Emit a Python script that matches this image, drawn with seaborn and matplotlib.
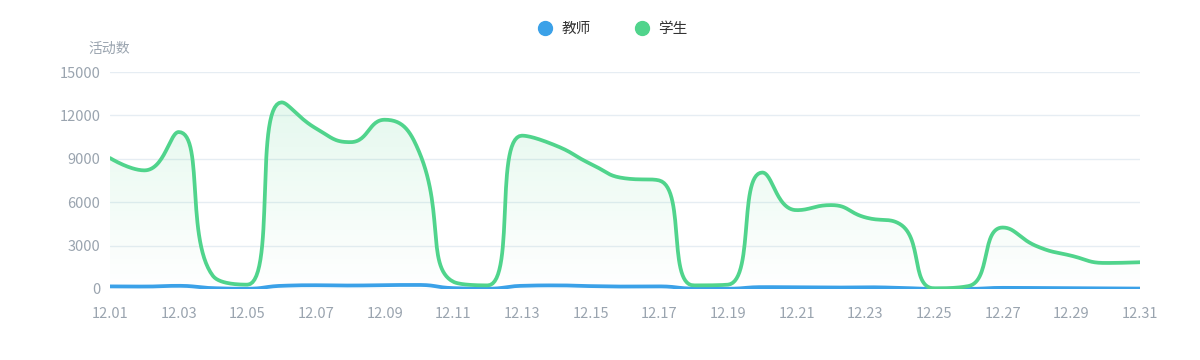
import numpy as np
import pandas as pd
import matplotlib
matplotlib.use("Agg")
import matplotlib.pyplot as plt
from matplotlib.lines import Line2D
from matplotlib.colors import LinearSegmentedColormap
import seaborn as sns

# daily activity counts, December
days = ["12.01", "12.02", "12.03", "12.04", "12.05", "12.06", "12.07", "12.08",
        "12.09", "12.10", "12.11", "12.12", "12.13", "12.14", "12.15", "12.16",
        "12.17", "12.18", "12.19", "12.20", "12.21", "12.22", "12.23", "12.24",
        "12.25", "12.26", "12.27", "12.28", "12.29", "12.30", "12.31"]
teacher = [180, 170, 220, 60, 20, 220, 260, 240, 270, 280, 60, 20, 220, 250, 200, 170,
           180, 30, 20, 130, 120, 100, 120, 80, 10, 10, 80, 70, 50, 40, 30]
student = [9050, 8200, 10850, 900, 300, 12900, 11100, 10150, 11700, 9500, 500, 250,
           10600, 9900, 8650, 7650, 7500, 250, 300, 8050, 5450, 5800, 4950, 4500,
           50, 200, 4250, 2950, 2300, 1800, 1850]
yticks = [0, 3000, 6000, 9000, 12000, 15000]

TEACHER_C = "#3ba1e8"
STUDENT_C = "#50d48c"
TICK_C = "#9aa4af"

# pixel size of one day / one count on the canvas, used by the smoothing
PX_X = 1030 / 30
PX_Y = 217 / 15000


def smooth_curve(vals, smooth=0.5, steps=30):
    """bezier smoothing of the daily points, done the way echarts does it
    (control points worked out in screen pixels, kept inside each segment)"""
    px = np.arange(len(vals)) * PX_X
    py = np.asarray(vals, float) * PX_Y
    n = len(px)
    cp0 = [None] * n   # outgoing control point of each point
    cp1 = [None] * n   # incoming control point of each point
    cp0[0] = (px[0], py[0])
    cp1[-1] = (px[-1], py[-1])
    for i in range(1, n - 1):
        x, y = px[i], py[i]
        xp, yp = px[i - 1], py[i - 1]
        xn, yn = px[i + 1], py[i + 1]
        vx, vy = xn - xp, yn - yp
        lp = np.hypot(x - xp, y - yp)
        ln = np.hypot(xn - x, yn - y)
        r = ln / (ln + lp)
        nx = x + vx * smooth * r
        ny = y + vy * smooth * r
        nx = max(min(nx, max(xn, x)), min(xn, x))
        ny = max(min(ny, max(yn, y)), min(yn, y))
        vx, vy = nx - x, ny - y
        cx = x - vx * lp / ln
        cy = y - vy * lp / ln
        cx = max(min(cx, max(xp, x)), min(xp, x))
        cy = max(min(cy, max(yp, y)), min(yp, y))
        vx, vy = x - cx, y - cy
        cp1[i] = (cx, cy)
        cp0[i] = (x + vx * ln / lp, y + vy * ln / lp)
    t = np.linspace(0, 1, steps, endpoint=False)[:, None]
    pts = []
    for i in range(n - 1):
        p0 = np.array([px[i], py[i]])
        p1 = np.array(cp0[i])
        p2 = np.array(cp1[i + 1])
        p3 = np.array([px[i + 1], py[i + 1]])
        pts.append((1 - t)**3 * p0 + 3 * (1 - t)**2 * t * p1
                   + 3 * (1 - t) * t**2 * p2 + t**3 * p3)
    pts.append(np.array([[px[-1], py[-1]]]))
    pts = np.vstack(pts)
    return pts[:, 0] / PX_X, pts[:, 1] / PX_Y


sns.set_theme(style="white")
plt.rcParams['font.family'] = ['Noto Sans CJK SC', 'DejaVu Sans']

fig = plt.figure(figsize=(12, 3.6), dpi=100)
ax = fig.add_axes([110 / 1200, 71 / 360, 1030 / 1200, 217 / 360])

tx, ty = smooth_curve(teacher)
sx, sy = smooth_curve(student)
curves = pd.concat([
    pd.DataFrame({"day": tx, "count": ty, "role": "教师"}),
    pd.DataFrame({"day": sx, "count": sy, "role": "学生"}),
])

# gradient fill under the student line
poly = ax.fill_between(sx, sy, 0, color="none", lw=0)
cmap = LinearSegmentedColormap.from_list(
    "g", [(0.31, 0.83, 0.55, 0.0), (0.31, 0.83, 0.55, 0.15)])
grad = np.linspace(0, 1, 256).reshape(-1, 1)
img = ax.imshow(grad, cmap=cmap, origin="lower", aspect="auto",
                extent=[0, len(days) - 1, 0, max(student)], zorder=1)
img.set_clip_path(poly.get_paths()[0], transform=ax.transData)

sns.lineplot(data=curves, x="day", y="count", hue="role", sort=False,
             palette={"教师": TEACHER_C, "学生": STUDENT_C},
             linewidth=2.7, legend=False, ax=ax, zorder=3)

ax.set_xlim(0, len(days) - 1)
ax.set_ylim(0, 15000)
ax.set_xticks(range(0, len(days), 2))
ax.set_xticklabels(days[::2])
ax.set_yticks(yticks)
ax.set_yticklabels([str(v) for v in yticks])
ax.set_xlabel("")
ax.set_ylabel("")
ax.yaxis.grid(True, color="#e6edf3", lw=1)
ax.xaxis.grid(False)
for s in ax.spines.values():
    s.set_visible(False)
ax.tick_params(axis="both", length=0, colors=TICK_C, labelsize=10.5)
ax.tick_params(axis="x", pad=13)
ax.tick_params(axis="y", pad=7)

fig.text(109 / 1200, 1 - 49 / 360, "活动数", color=TICK_C, fontsize=10,
         ha="center", va="center")

handles = [Line2D([], [], ls="none", marker="o", markersize=10,
                  markerfacecolor=c, markeredgecolor=c, label=l)
           for c, l in [(TEACHER_C, "教师"), (STUDENT_C, "学生")]]
fig.legend(handles=handles, loc="center", bbox_to_anchor=(0.5 + 9 / 1200, 1 - 29 / 360),
           ncol=2, frameon=False, fontsize=10.5, handletextpad=0.15,
           columnspacing=2.5, labelcolor="#333333")

fig.savefig("out.png", dpi=100)
